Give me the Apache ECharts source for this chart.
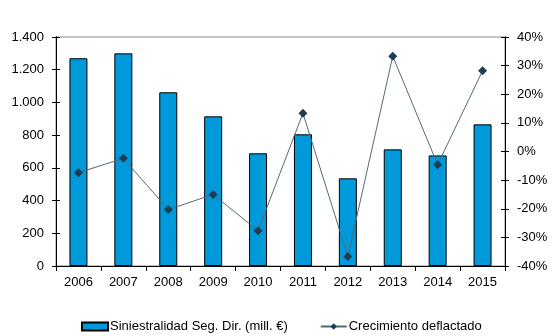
<!DOCTYPE html>
<html><head><meta charset="utf-8">
<script src="https://cdn.jsdelivr.net/npm/echarts@6/dist/echarts.min.js"></script>
<style>html,body{margin:0;padding:0;background:#fff}#c{width:556px;height:336px}</style>
</head><body><div id="c"></div>
<script>
var categories = ['2006','2007','2008','2009','2010','2011','2012','2013','2014','2015'];
var siniestralidad = [1270, 1300, 1062, 915, 689, 805, 536, 713, 676, 866];
var crecimiento = [-7.4, -2.4, -20.3, -15.0, -27.7, 13.4, -36.7, 33.3, -4.6, 28.2];
var leftTicks = {min: 0, max: 1400, interval: 200};
var rightTicks = {min: -40, max: 40, interval: 10};
var seriesNames = ['Siniestralidad Seg. Dir. (mill. €)', 'Crecimiento deflactado'];

var font = 'Liberation Sans, Arial, sans-serif';
function fmtThousands(v){ return String(v).replace(/\B(?=(\d{3})+(?!\d))/g, '.'); }
var chart = echarts.init(document.getElementById('c'));
var baseAxis = function(pos, t, fmt, inside){
  return {
    type: 'value', position: pos, min: t.min, max: t.max, interval: t.interval,
    axisLine: {show: true, lineStyle: {color: '#000', width: 1}},
    axisTick: {show: true, inside: inside, length: 4, lineStyle: {color: '#000'}},
    axisLabel: {show: !inside, color: '#000', fontFamily: font, fontSize: 13, margin: 12, formatter: fmt},
    splitLine: {show: false}
  };
};
chart.setOption({
  animation: false,
  grid: {left: 56, right: 51, top: 37, bottom: 70, show: true, borderColor: '#888', borderWidth: 1},
  legend: {
    bottom: 3, left: 81, padding: 0, itemWidth: 26, itemHeight: 8, itemGap: 32,
    textStyle: {color: '#000', fontFamily: font, fontSize: 13, padding: [0,0,0,-3]},
    data: [
      {name: seriesNames[0], icon: 'rect'},
      {name: seriesNames[1]}
    ]
  },
  xAxis: {
    type: 'category', data: categories,
    axisLine: {lineStyle: {color: '#000'}},
    axisTick: {show: true, length: 5, lineStyle: {color: '#000'}},
    axisLabel: {color: '#000', fontFamily: font, fontSize: 13, margin: 10}
  },
  yAxis: [
    baseAxis('left', leftTicks, fmtThousands, false),
    baseAxis('right', rightTicks, '{value}%', false),
    baseAxis('left', leftTicks, fmtThousands, true),
    baseAxis('right', rightTicks, '{value}%', true)
  ],
  series: [
    {
      name: seriesNames[0], type: 'bar', yAxisIndex: 0, data: siniestralidad,
      barWidth: 18,
      itemStyle: {color: '#0099DA', borderColor: '#000', borderWidth: 1}
    },
    {
      name: seriesNames[1], type: 'line', yAxisIndex: 1, data: crecimiento,
      symbol: 'diamond', symbolSize: 9,
      lineStyle: {color: '#4F6B7B', width: 1},
      itemStyle: {color: '#1F3D52'}
    }
  ]
});
</script></body></html>
